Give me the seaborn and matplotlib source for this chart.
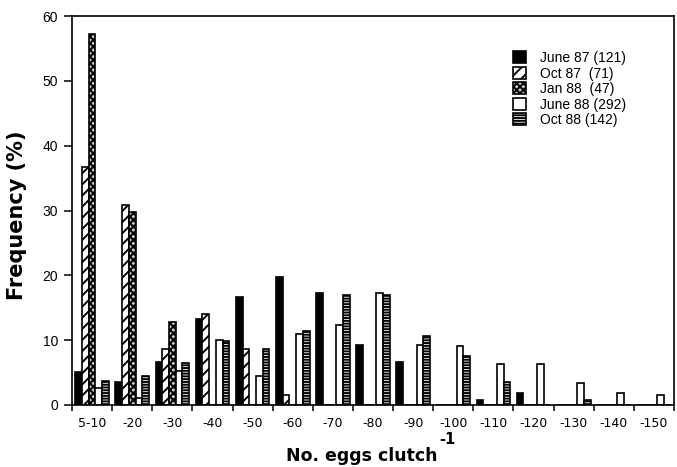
import numpy as np
import pandas as pd
import matplotlib
matplotlib.use("Agg")
import matplotlib.pyplot as plt
import seaborn as sns

# ---- data ----
bins = ['5-10', '-20', '-30', '-40', '-50', '-60', '-70', '-80', '-90',
        '-100', '-110', '-120', '-130', '-140', '-150']
june87 = [5.1, 3.6, 6.7, 13.3, 16.7, 19.7, 17.3, 9.3, 6.7, 0, 0.7, 1.8, 0, 0, 0]
oct87 = [36.7, 30.9, 8.6, 14.1, 8.6, 1.5, 0, 0, 0, 0, 0, 0, 0, 0, 0]
jan88 = [57.3, 29.8, 12.8, 0, 0, 0, 0, 0, 0, 0, 0, 0, 0, 0, 0]
june88 = [2.6, 1.1, 5.2, 10.0, 4.5, 10.9, 12.3, 17.2, 9.2, 9.1, 6.3, 6.3, 3.4, 1.8, 1.5]
oct88 = [3.7, 4.5, 6.5, 9.9, 8.6, 11.4, 16.9, 16.9, 10.7, 7.6, 3.6, 0, 0.8, 0, 0]
labels = ['June 87 (121)', 'Oct 87  (71)', 'Jan 88  (47)', 'June 88 (292)', 'Oct 88 (142)']
yticks = [0, 10, 20, 30, 40, 50, 60]

sns.set_theme(style='white')
plt.rcParams['font.family'] = ['Liberation Sans', 'DejaVu Sans']
plt.rcParams['hatch.linewidth'] = 1.4

rows = []
for lab, vals in zip(labels, [june87, oct87, jan88, june88, oct88]):
    for b, v in zip(bins, vals):
        rows.append({'bin': b, 'freq': v, 'month': lab})
df = pd.DataFrame(rows)

fig = plt.figure(figsize=(6.77, 4.67), dpi=100)
ax = fig.add_axes([0.1064, 0.1328, 0.8892, 0.8329])

sns.barplot(data=df, x='bin', y='freq', hue='month', order=bins, hue_order=labels,
            palette=['black', 'white', '#c4c4c4', 'white', 'white'], saturation=1,
            width=0.84, edgecolor='black', linewidth=1.2, errorbar=None,
            legend=False, ax=ax)

hatches = ['', '///', 'xxxxx', '', '------']
for cont, h in zip(ax.containers, hatches):
    for p in cont:
        p.set_hatch(h)
        p.set_edgecolor('black')

ax.set_xlim(-0.5, len(bins) - 0.5)
ax.set_ylim(0, 60)
ax.set_yticks(yticks)
ax.set_yticklabels([str(t) for t in yticks], fontsize=10, family='Liberation Sans', color='black')
ax.set_xticks(range(len(bins)))
ax.set_xticklabels(bins, fontsize=9, family='DejaVu Sans', color='black')
ax.set_xticks(np.arange(-0.5, len(bins), 1), minor=True)
ax.tick_params(axis='x', which='major', bottom=True, length=0, pad=9)
ax.tick_params(axis='x', which='minor', bottom=True, length=4, width=1.1, color='black', direction='out')
ax.tick_params(axis='y', which='major', left=True, length=6, width=1.1, color='black', direction='out', pad=4)

for s in ax.spines.values():
    s.set_visible(True)
    s.set_color('black')
    s.set_linewidth(1.2)

ax.set_ylabel('Frequency (%)', fontsize=15, fontweight='bold', family='DejaVu Sans', color='black')
ax.yaxis.set_label_coords(-0.075, 0.488)
ax.set_xlabel('No. eggs clutch', fontsize=12.5, fontweight='bold', family='DejaVu Sans', color='black')
ax.xaxis.set_label_coords(0.482, -0.107)
fig.text(447 / 677, 1 - 439 / 467, '-1', fontsize=10.5, fontweight='bold', family='DejaVu Sans',
         ha='center', va='center', color='black')

leg = ax.legend(ax.containers, labels, loc='upper left',
                bbox_to_anchor=(513 / 677, 1 - 51 / 467), bbox_transform=fig.transFigure,
                frameon=False, fontsize=10, handlelength=0.93, handleheight=0.93,
                handletextpad=1.05, labelspacing=0.11, borderpad=0, borderaxespad=0)
for t in leg.get_texts():
    t.set_family('Liberation Sans')
    t.set_color('black')

fig.savefig('out.png', dpi=100)
